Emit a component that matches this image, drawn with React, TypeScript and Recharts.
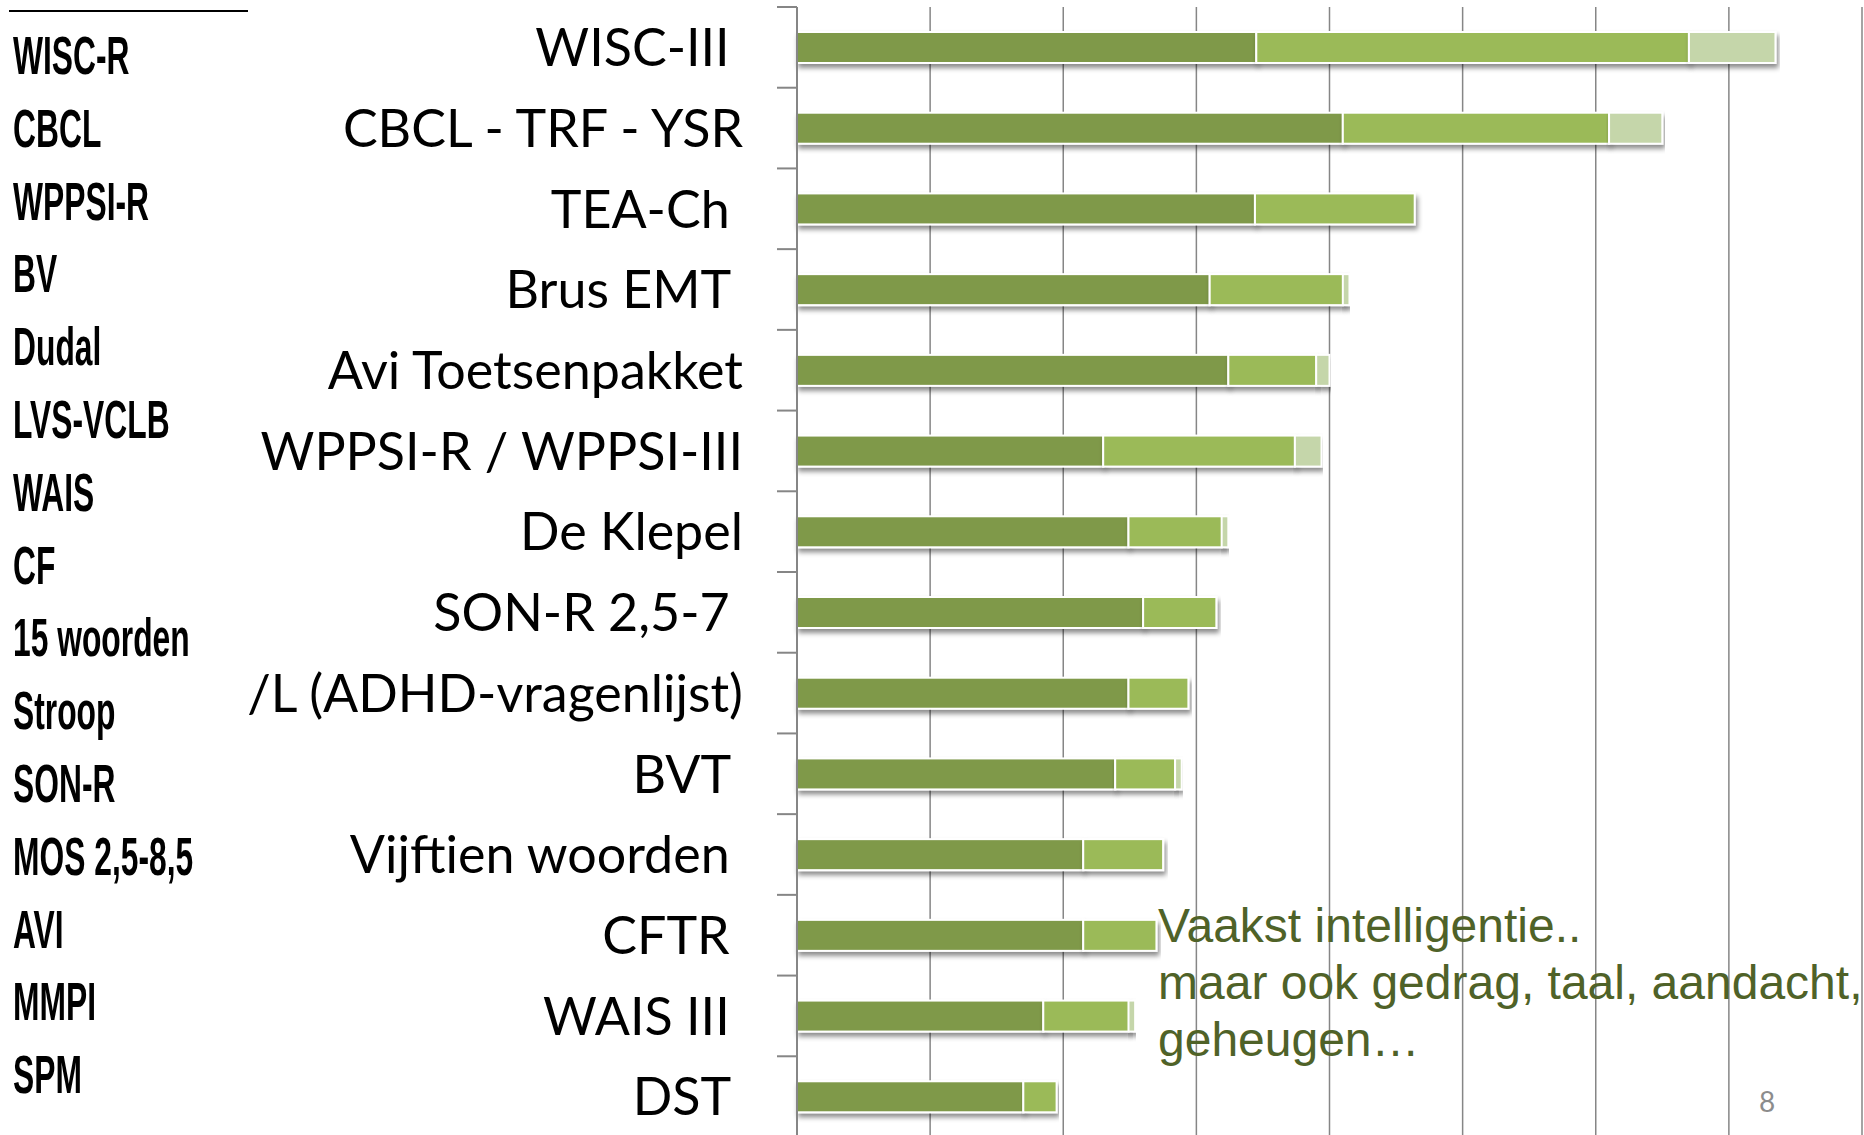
import { BarChart, Bar, XAxis, YAxis, CartesianGrid } from "recharts";

// tests named on the slide (trailing nbsp where the original label had a space)
const tests = [
  "WISC-III\u00a0",
  "CBCL - TRF - YSR",
  "TEA-Ch\u00a0",
  "Brus EMT\u00a0",
  "Avi Toetsenpakket",
  "WPPSI-R / WPPSI-III",
  "De Klepel",
  "SON-R 2,5-7\u00a0",
  "/L (ADHD-vragenlijst)",
  "BVT\u00a0",
  "Vijftien woorden\u00a0",
  "CFTR\u00a0",
  "WAIS III\u00a0",
  "DST\u00a0",
];
const often = [3.45, 4.1, 3.44, 3.1, 3.24, 2.3, 2.49, 2.6, 2.49, 2.39, 2.15, 2.15, 1.85, 1.7];
const sometimes = [3.25, 2.0, 1.2, 1.0, 0.66, 1.44, 0.7, 0.55, 0.45, 0.45, 0.6, 0.55, 0.64, 0.25];
const rarely = [0.65, 0.4, 0, 0.05, 0.1, 0.2, 0.05, 0, 0, 0.05, 0, 0, 0.05, 0];
const xTicks = [0, 1, 2, 3, 4, 5, 6, 7, 8];

// older list shown on the left of the slide
const oldTests = [
  "WISC-R",
  "CBCL",
  "WPPSI-R",
  "BV",
  "Dudal",
  "LVS-VCLB",
  "WAIS",
  "CF",
  "15 woorden",
  "Stroop",
  "SON-R",
  "MOS 2,5-8,5",
  "AVI",
  "MMPI",
  "SPM",
];
const note = ["Vaakst intelligentie..", "maar ook gedrag, taal, aandacht,", "geheugen…"];

const data = tests.map((name, i) => ({
  name,
  often: often[i],
  sometimes: sometimes[i],
  rarely: rarely[i],
}));

const GRID = "#868686";

const CategoryTick = (props: any) => {
  const { x, y, payload } = props;
  const half = payload.offset ?? 40;
  return (
    <g>
      <line x1={x + 34} x2={x + 54} y1={y - half} y2={y - half} stroke={GRID} strokeWidth={2} />
      <text x={x} y={y} dy="0.36em" textAnchor="end" fontFamily="Lato" fontSize={52} fill="#000">
        {payload.value}
      </text>
    </g>
  );
};

const Segment = (props: any) => {
  const { x, y, width, height, fill } = props;
  if (!width || width <= 0) return null;
  return (
    <rect
      x={x}
      y={y}
      width={width}
      height={height}
      fill={fill}
      stroke="#fff"
      strokeWidth={2}
      filter="url(#barShadow)"
    />
  );
};

const App = () => {
  return (
    <div
      style={{
        position: "absolute",
        left: 0,
        top: 0,
        width: 1864,
        height: 1135,
        overflow: "hidden",
        background: "#fff",
      }}
    >
      <BarChart
        width={1864}
        height={1137}
        data={data}
        layout="vertical"
        margin={{ top: 7, right: 2, bottom: 0, left: 0 }}
      >
        <defs>
          <filter id="barShadow" x="-5%" y="-40%" width="110%" height="200%">
            <feDropShadow dx={2} dy={4} stdDeviation={2.5} floodColor="#000" floodOpacity={0.45} />
          </filter>
        </defs>
        <CartesianGrid horizontal={false} stroke={GRID} strokeWidth={1.5} />
        <XAxis type="number" domain={[0, 8]} ticks={xTicks} hide />
        <YAxis
          type="category"
          dataKey="name"
          width={797}
          tickSize={20}
          tickMargin={34}
          tickLine={false}
          axisLine={{ stroke: GRID, strokeWidth: 2 }}
          tick={<CategoryTick />}
          interval={0}
        />
        <Bar dataKey="often" stackId="a" fill="#7f994a" barSize={31} shape={<Segment />} isAnimationActive={false} />
        <Bar dataKey="sometimes" stackId="a" fill="#9bba59" barSize={31} shape={<Segment />} isAnimationActive={false} />
        <Bar dataKey="rarely" stackId="a" fill="#c5d6aa" barSize={31} shape={<Segment />} isAnimationActive={false} />
      </BarChart>

      <div style={{ position: "absolute", left: 9, top: 10, width: 239, height: 2, background: "#000" }} />

      <div style={{ position: "absolute", left: 13, top: 29 }}>
        {oldTests.map((t) => (
          <div
            key={t}
            style={{
              height: 72.8,
              lineHeight: "53px",
              fontFamily: "'Liberation Sans', Arial, sans-serif",
              fontWeight: 700,
              fontSize: 53,
              color: "#000",
              whiteSpace: "nowrap",
              transform: "scaleX(0.6)",
              transformOrigin: "left",
            }}
          >
            {t}
          </div>
        ))}
      </div>

      <div
        style={{
          position: "absolute",
          left: 1158,
          top: 897,
          fontFamily: "'Liberation Sans', Arial, sans-serif",
          fontSize: 48,
          lineHeight: "57px",
          color: "#4f6228",
          whiteSpace: "nowrap",
        }}
      >
        {note.map((l) => (
          <div key={l}>{l}</div>
        ))}
      </div>

      <div
        style={{
          position: "absolute",
          left: 1759,
          top: 1087,
          fontFamily: "Lato",
          fontSize: 28,
          lineHeight: "28px",
          color: "#8c8c8c",
        }}
      >
        8
      </div>
    </div>
  );
};

export default App;
